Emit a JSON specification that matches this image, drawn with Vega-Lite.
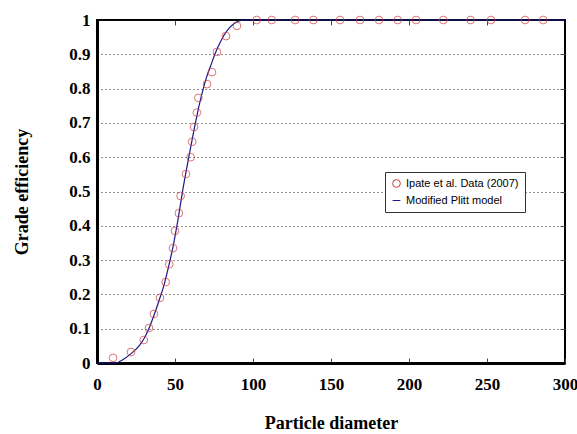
{
  "$schema": "https://vega.github.io/schema/vega-lite/v6.json",
  "width": 468,
  "height": 343,
  "autosize": {"type": "none"},
  "padding": {"left": 97, "top": 20, "right": 12, "bottom": 71},
  "background": "white",
  "config": {
    "view": {"stroke": "black", "strokeWidth": 2},
    "axis": {
      "labelFont": "Liberation Serif",
      "labelFontWeight": "bold",
      "labelFontSize": 17,
      "labelColor": "black",
      "titleFont": "Liberation Serif",
      "titleFontWeight": "bold",
      "titleFontSize": 18,
      "titleColor": "black",
      "domainColor": "black",
      "domainWidth": 3,
      "tickColor": "#444",
      "tickWidth": 1,
      "tickSize": -5,
      "grid": false
    }
  },
  "datasets": {
    "pts": [
      {"d": 10.3, "e": 0.015, "series": "Ipate et al. Data (2007)"},
      {"d": 21.8, "e": 0.032, "series": "Ipate et al. Data (2007)"},
      {"d": 30.0, "e": 0.067, "series": "Ipate et al. Data (2007)"},
      {"d": 33.3, "e": 0.102, "series": "Ipate et al. Data (2007)"},
      {"d": 36.5, "e": 0.143, "series": "Ipate et al. Data (2007)"},
      {"d": 40.4, "e": 0.19, "series": "Ipate et al. Data (2007)"},
      {"d": 44.0, "e": 0.236, "series": "Ipate et al. Data (2007)"},
      {"d": 46.3, "e": 0.288, "series": "Ipate et al. Data (2007)"},
      {"d": 48.7, "e": 0.335, "series": "Ipate et al. Data (2007)"},
      {"d": 50.0, "e": 0.385, "series": "Ipate et al. Data (2007)"},
      {"d": 52.5, "e": 0.437, "series": "Ipate et al. Data (2007)"},
      {"d": 53.6, "e": 0.487, "series": "Ipate et al. Data (2007)"},
      {"d": 57.0, "e": 0.551, "series": "Ipate et al. Data (2007)"},
      {"d": 60.0, "e": 0.6, "series": "Ipate et al. Data (2007)"},
      {"d": 61.0, "e": 0.645, "series": "Ipate et al. Data (2007)"},
      {"d": 62.2, "e": 0.688, "series": "Ipate et al. Data (2007)"},
      {"d": 64.0, "e": 0.73, "series": "Ipate et al. Data (2007)"},
      {"d": 65.0, "e": 0.773, "series": "Ipate et al. Data (2007)"},
      {"d": 70.5, "e": 0.813, "series": "Ipate et al. Data (2007)"},
      {"d": 73.7, "e": 0.848, "series": "Ipate et al. Data (2007)"},
      {"d": 76.9, "e": 0.907, "series": "Ipate et al. Data (2007)"},
      {"d": 82.7, "e": 0.953, "series": "Ipate et al. Data (2007)"},
      {"d": 89.7, "e": 0.983, "series": "Ipate et al. Data (2007)"},
      {"d": 102.4, "e": 1.0, "series": "Ipate et al. Data (2007)"},
      {"d": 112.0, "e": 1.0, "series": "Ipate et al. Data (2007)"},
      {"d": 127.0, "e": 1.0, "series": "Ipate et al. Data (2007)"},
      {"d": 138.7, "e": 1.0, "series": "Ipate et al. Data (2007)"},
      {"d": 155.8, "e": 1.0, "series": "Ipate et al. Data (2007)"},
      {"d": 168.6, "e": 1.0, "series": "Ipate et al. Data (2007)"},
      {"d": 180.8, "e": 1.0, "series": "Ipate et al. Data (2007)"},
      {"d": 192.8, "e": 1.0, "series": "Ipate et al. Data (2007)"},
      {"d": 204.5, "e": 1.0, "series": "Ipate et al. Data (2007)"},
      {"d": 222.0, "e": 1.0, "series": "Ipate et al. Data (2007)"},
      {"d": 239.5, "e": 1.0, "series": "Ipate et al. Data (2007)"},
      {"d": 252.6, "e": 1.0, "series": "Ipate et al. Data (2007)"},
      {"d": 274.4, "e": 1.0, "series": "Ipate et al. Data (2007)"},
      {"d": 286.0, "e": 1.0, "series": "Ipate et al. Data (2007)"}
    ],
    "curve": [
      {"d": 0, "e": 0, "series": "Modified Plitt model"},
      {"d": 12, "e": 0, "series": "Modified Plitt model"},
      {"d": 16, "e": 0.008, "series": "Modified Plitt model"},
      {"d": 22, "e": 0.028, "series": "Modified Plitt model"},
      {"d": 27, "e": 0.05, "series": "Modified Plitt model"},
      {"d": 30, "e": 0.07, "series": "Modified Plitt model"},
      {"d": 33.5, "e": 0.103, "series": "Modified Plitt model"},
      {"d": 37, "e": 0.145, "series": "Modified Plitt model"},
      {"d": 40, "e": 0.185, "series": "Modified Plitt model"},
      {"d": 43, "e": 0.228, "series": "Modified Plitt model"},
      {"d": 46, "e": 0.283, "series": "Modified Plitt model"},
      {"d": 49, "e": 0.345, "series": "Modified Plitt model"},
      {"d": 52, "e": 0.42, "series": "Modified Plitt model"},
      {"d": 55, "e": 0.505, "series": "Modified Plitt model"},
      {"d": 58, "e": 0.58, "series": "Modified Plitt model"},
      {"d": 61, "e": 0.652, "series": "Modified Plitt model"},
      {"d": 64, "e": 0.72, "series": "Modified Plitt model"},
      {"d": 67, "e": 0.78, "series": "Modified Plitt model"},
      {"d": 70, "e": 0.83, "series": "Modified Plitt model"},
      {"d": 73, "e": 0.868, "series": "Modified Plitt model"},
      {"d": 76, "e": 0.905, "series": "Modified Plitt model"},
      {"d": 79, "e": 0.935, "series": "Modified Plitt model"},
      {"d": 82, "e": 0.96, "series": "Modified Plitt model"},
      {"d": 85, "e": 0.978, "series": "Modified Plitt model"},
      {"d": 88, "e": 0.99, "series": "Modified Plitt model"},
      {"d": 91, "e": 0.997, "series": "Modified Plitt model"},
      {"d": 95, "e": 1, "series": "Modified Plitt model"},
      {"d": 300, "e": 1, "series": "Modified Plitt model"}
    ]
  },
  "layer": [
    {
      "data": {"name": "curve"},
      "mark": {"type": "line", "strokeWidth": 1.2, "interpolate": "monotone"},
      "encoding": {
        "x": {"field": "d", "type": "quantitative", "scale": {"domain": [0, 300], "nice": false},
              "axis": {"orient": "bottom", "title": "Particle diameter", "values": [0, 50, 100, 150, 200, 250, 300], "labelPadding": 18, "titlePadding": 22, "labelFlush": false}},
        "y": {"field": "e", "type": "quantitative", "scale": {"domain": [0, 1], "nice": false},
              "axis": {"orient": "left", "title": "Grade efficiency", "values": [0, 0.1, 0.2, 0.3, 0.4, 0.5, 0.6, 0.7, 0.8, 0.9, 1], "format": "~g", "grid": true, "gridDash": [1, 3], "gridColor": "#222", "gridWidth": 1, "ticks": false, "labelPadding": 7, "titlePadding": 37, "labelFlush": false}},
        "color": {"field": "series", "type": "nominal",
                  "scale": {"domain": ["Ipate et al. Data (2007)", "Modified Plitt model"], "range": ["#d03a3a", "#1a1a8a"]},
                  "legend": {
                    "title": null,
                    "orient": "none",
                    "legendX": 288,
                    "legendY": 152,
                    "strokeColor": "#333",
                    "fillColor": "white",
                    "padding": 6,
                    "labelFont": "Liberation Sans",
                    "labelFontSize": 11,
                    "labelColor": "black",
                    "symbolSize": 60,
                    "rowPadding": 4,
                    "encode": {"symbols": {"update": {
                      "shape": {"signal": "datum.value === 'Modified Plitt model' ? 'stroke' : 'circle'"},
                      "fill": {"value": "transparent"},
                      "strokeWidth": {"value": 1}
                    }}}
                  }}
      }
    },
    {
      "data": {"name": "pts"},
      "mark": {"type": "point", "shape": "circle", "filled": false, "size": 60, "strokeWidth": 1},
      "encoding": {
        "x": {"field": "d", "type": "quantitative",
              "axis": {"orient": "top", "labels": false, "title": null, "domain": false, "values": [50, 100, 150, 200, 250]}},
        "y": {"field": "e", "type": "quantitative",
              "axis": {"orient": "right", "labels": false, "title": null, "domain": false, "grid": false, "values": [0.1, 0.2, 0.3, 0.4, 0.5, 0.6, 0.7, 0.8, 0.9]}},
        "color": {"field": "series", "type": "nominal"}
      }
    }
  ]
}
